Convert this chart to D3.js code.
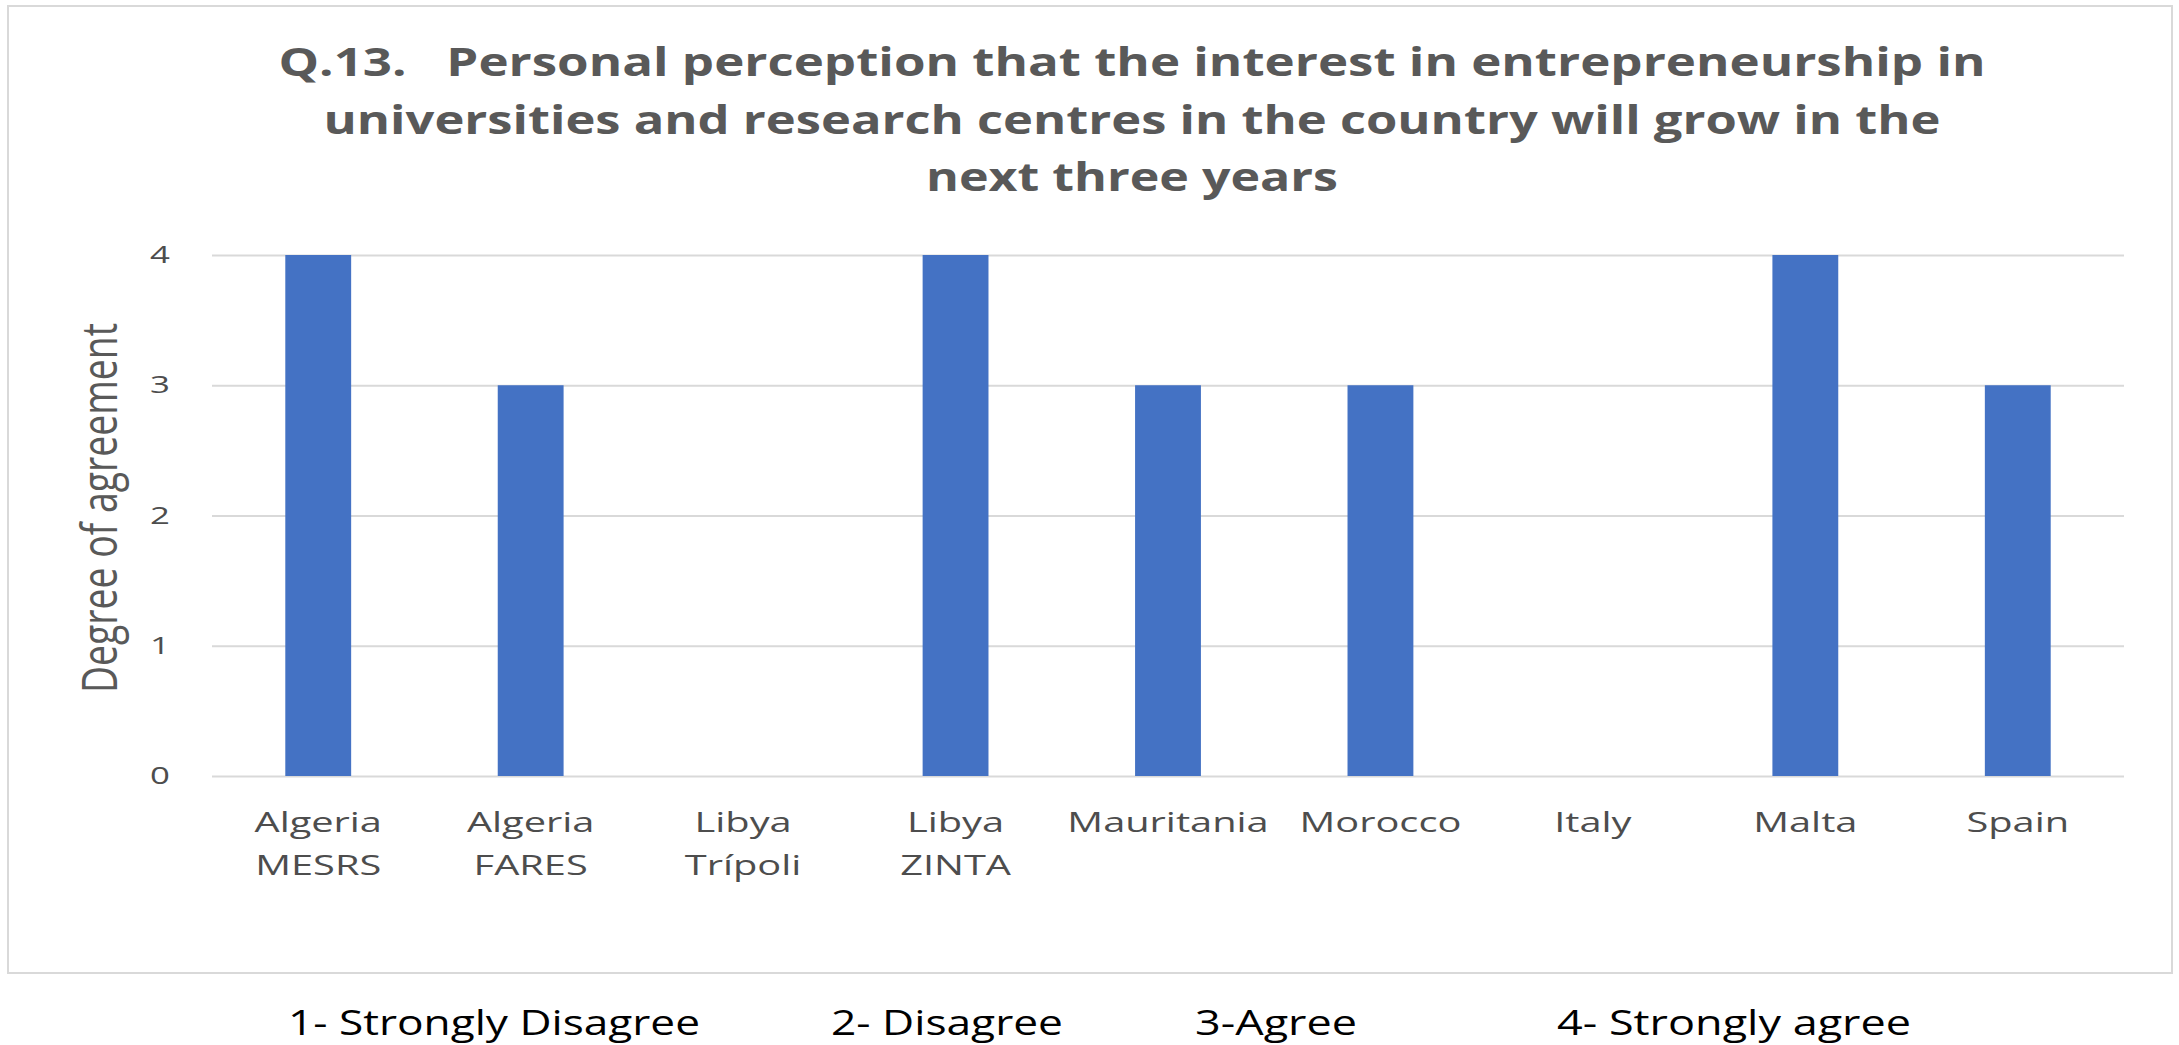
<!DOCTYPE html>
<html>
<head>
<meta charset="utf-8">
<script src="https://cdn.jsdelivr.net/npm/d3@7"></script>
<style>
  body { margin: 0; background: #fff; }
  svg text { font-family: "Open Sans", sans-serif; }
</style>
</head>
<body>
<svg id="chart" width="2179" height="1045"></svg>
<script>
var categories = ['Algeria MESRS', 'Algeria FARES', 'Libya Trípoli', 'Libya ZINTA', 'Mauritania', 'Morocco', 'Italy', 'Malta', 'Spain']
var labelLines = [['Algeria', 'MESRS'], ['Algeria', 'FARES'], ['Libya', 'Trípoli'], ['Libya', 'ZINTA'], ['Mauritania'], ['Morocco'], ['Italy'], ['Malta'], ['Spain']]
var values = [4, 3, 0, 4, 3, 3, 0, 4, 3]
var yTicks = [0, 1, 2, 3, 4]
var titleLines = ['Q.13.   Personal perception that the interest in entrepreneurship in',
                  'universities and research centres in the country will grow in the',
                  'next three years']
var yLabel = 'Degree of agreement'
var legendItems = ['1- Strongly Disagree', '2- Disagree', '3-Agree', '4- Strongly agree']

var margin = { top: 255, left: 212, right: 55, bottom: 269 }
var W = 2179, H = 1045
var plotW = W - margin.left - margin.right
var plotH = H - margin.top - margin.bottom

var svg = d3.select('#chart')

// stretch text horizontally, the picture is wider than the original chart
function stretch(sel, k) {
  sel.each(function() {
    var w = this.getComputedTextLength()
    d3.select(this).attr('textLength', w * k).attr('lengthAdjust', 'spacingAndGlyphs')
  })
}
function fit(sel, w) {
  sel.attr('textLength', w).attr('lengthAdjust', 'spacingAndGlyphs')
}

// chart border
svg.append('rect')
  .attr('x', 8).attr('y', 6)
  .attr('width', 2164).attr('height', 967)
  .attr('fill', '#fff')
  .attr('stroke', '#d9d9d9')
  .attr('stroke-width', 2)

// title
var titleW = [1707, 1617, 412]
svg.append('g').selectAll('text')
  .data(titleLines)
  .enter()
  .append('text')
    .attr('x', 1132)
    .attr('y', (d, i) => 76 + i * 57.5)
    .attr('text-anchor', 'middle')
    .attr('font-size', 40)
    .attr('font-weight', 'bold')
    .attr('fill', '#595959')
    .style('white-space', 'pre')
    .text(d => d)
    .each(function(d, i) { fit(d3.select(this), titleW[i]) })

var g = svg.append('g')
  .attr('transform', 'translate(' + margin.left + ',' + margin.top + ')')

var x = d3.scaleBand()
  .domain(categories)
  .range([0, plotW])
  .paddingInner(0.69)
  .paddingOuter(0.345)

var y = d3.scaleLinear()
  .domain([0, 4])
  .range([plotH, 0])

// gridlines + y tick labels
var yAxis = g.append('g')
  .call(d3.axisLeft(y).tickValues(yTicks).tickSize(-plotW).tickPadding(42).tickFormat(d3.format('d')))
yAxis.select('.domain').remove()
yAxis.selectAll('line').attr('stroke', '#d9d9d9').attr('stroke-width', 2)
yAxis.selectAll('text')
  .attr('font-size', 24)
  .attr('fill', '#4d4d4d')
  .attr('font-family', '"Open Sans", sans-serif')
  .call(stretch, 1.45)

// bars
g.selectAll('.bar')
  .data(values)
  .enter()
  .append('rect')
    .attr('class', 'bar')
    .attr('x', (d, i) => x(categories[i]))
    .attr('y', d => y(d))
    .attr('width', x.bandwidth())
    .attr('height', d => plotH - y(d))
    .attr('fill', '#4472c4')

// x labels
var xAxis = g.append('g')
  .attr('transform', 'translate(0,' + plotH + ')')
  .call(d3.axisBottom(x).tickSize(0).tickFormat(''))
xAxis.select('.domain').remove()
xAxis.selectAll('.tick').each(function(d, i) {
  var t = d3.select(this).append('text')
    .attr('text-anchor', 'middle')
    .attr('font-size', 28)
    .attr('fill', '#4d4d4d')
  labelLines[i].forEach(function(line, j) {
    t.append('tspan').attr('x', 0).attr('y', 56 + j * 43).text(line)
  })
  t.selectAll('tspan').call(stretch, 1.42)
})

// y axis title
svg.append('text')
  .attr('transform', 'translate(117,508) rotate(-90)')
  .attr('text-anchor', 'middle')
  .attr('font-size', 50)
  .attr('fill', '#595959')
  .text(yLabel)
  .call(fit, 370)

// legend line under the chart
var legendX = [288, 831, 1195, 1557]
var legendW = [412, 232, 162, 354]
svg.append('g').selectAll('text')
  .data(legendItems)
  .enter()
  .append('text')
    .attr('x', (d, i) => legendX[i])
    .attr('y', 1035)
    .attr('font-size', 34)
    .attr('fill', '#000')
    .text(d => d)
    .each(function(d, i) { fit(d3.select(this), legendW[i]) })
</script>
</body>
</html>
